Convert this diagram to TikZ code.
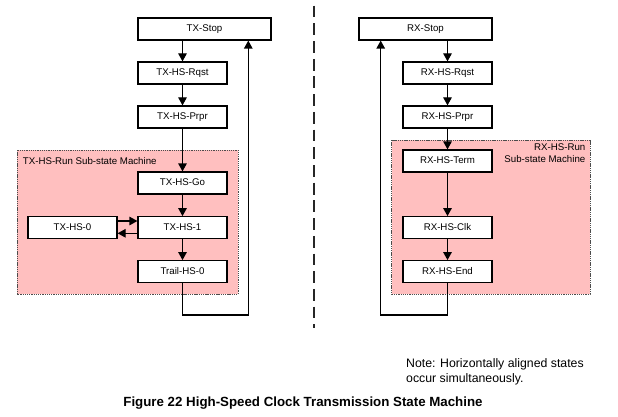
\documentclass[tikz,border=0pt]{standalone}
\usepackage{fontspec}
\setmainfont{Liberation Sans}
\usetikzlibrary{arrows.meta}
\definecolor{pinkfill}{RGB}{255,191,191}
\begin{document}
\begin{tikzpicture}[x=1pt,y=-1pt,
  stbox/.style={draw=black,line width=1.2pt,fill=white,minimum width=89pt,minimum height=22pt,inner sep=0pt,
    font=\fontsize{9.7}{11}\selectfont,text height=7pt,text depth=2pt},
  widebox/.style={stbox,minimum width=133pt},
  arr/.style={line width=1.2pt,-{Triangle[length=8pt,width=8.5pt]}},
  subm/.style={fill=pinkfill,draw=black!70,line width=0.7pt,dash pattern=on 1.3pt off 0.9pt},
  lbl/.style={inner sep=0pt,font=\fontsize{9.7}{11.7}\selectfont},
  divider/.style={line width=2pt,draw=black!85,dash pattern=on 11.8pt off 5.9pt}]
\useasboundingbox (0,0) rectangle (618,417);
% background and sub-state regions
\fill[white] (0,0) rectangle (618,417);
\draw[subm] (17,150) rectangle (238,294);
\draw[subm] (391.7,140) rectangle (590,294);
\node[lbl,anchor=west] (txsub) at (22.7,161) {TX-HS-Run Sub-state Machine};
\node[lbl,anchor=north east,align=right] (rxsub) at (585.5,144) {RX-HS-Run\\Sub-state Machine};
% divider
\coordinate (dtop) at (314,5.7);
\coordinate (dbot) at (314,328.3);
\draw[divider] (dtop) -- (dbot);
% TX states
\node[widebox] (txstop) at (204.5,29) {TX-Stop};
\node[stbox] (txrqst) at (182.5,73) {TX-HS-Rqst};
\node[stbox] (txprpr) at (182.5,117) {TX-HS-Prpr};
\node[stbox] (txgo) at (182.5,183) {TX-HS-Go};
\node[stbox] (txone) at (182.5,227.7) {TX-HS-1};
\node[stbox] (txzero) at (72.5,227.7) {TX-HS-0};
\node[stbox] (txtrail) at (182.5,271.7) {Trail-HS-0};
% RX states
\node[widebox] (rxstop) at (425.5,29) {RX-Stop};
\node[stbox] (rxrqst) at (447.5,73) {RX-HS-Rqst};
\node[stbox] (rxprpr) at (447.5,117) {RX-HS-Prpr};
\node[stbox] (rxterm) at (447.5,161) {RX-HS-Term};
\node[stbox] (rxclk) at (447.5,227.7) {RX-HS-Clk};
\node[stbox] (rxend) at (447.5,271.7) {RX-HS-End};
% TX connectors
\draw[arr] (txrqst.north |- txstop.south) -- (txrqst.north);
\draw[arr] (txrqst) -- (txprpr);
\draw[arr] (txprpr) -- (txgo);
\draw[arr] (txgo) -- (txone);
\draw[arr] (txone) -- (txtrail);
\draw[arr] ([yshift=6.7pt]txzero.east) -- ([yshift=6.7pt]txone.west);
\draw[arr] ([yshift=-5.6pt]txone.west) -- ([yshift=-5.6pt]txzero.east);
\coordinate (txloop) at (248.3,315);
\draw[arr] (txtrail.south) |- (txloop) -- (txloop |- txstop.south);
% RX connectors
\draw[arr] (rxrqst.north |- rxstop.south) -- (rxrqst.north);
\draw[arr] (rxrqst) -- (rxprpr);
\draw[arr] (rxprpr) -- (rxterm);
\draw[arr] (rxterm) -- (rxclk);
\draw[arr] (rxclk) -- (rxend);
\coordinate (rxloop) at (380.7,315);
\draw[arr] (rxend.south) |- (rxloop) -- (rxloop |- rxstop.south);
% note and caption
\node[inner sep=0pt,anchor=west,align=left,font=\fontsize{12.3}{14.5}\selectfont] (note) at (406,372)
  {Note: Horizontally aligned states\\occur simultaneously.};
\node[inner sep=0pt,font=\fontsize{13.3}{15}\selectfont\bfseries] (caption) at (303,403)
  {Figure 22 High-Speed Clock Transmission State Machine};
\end{tikzpicture}
\end{document}
